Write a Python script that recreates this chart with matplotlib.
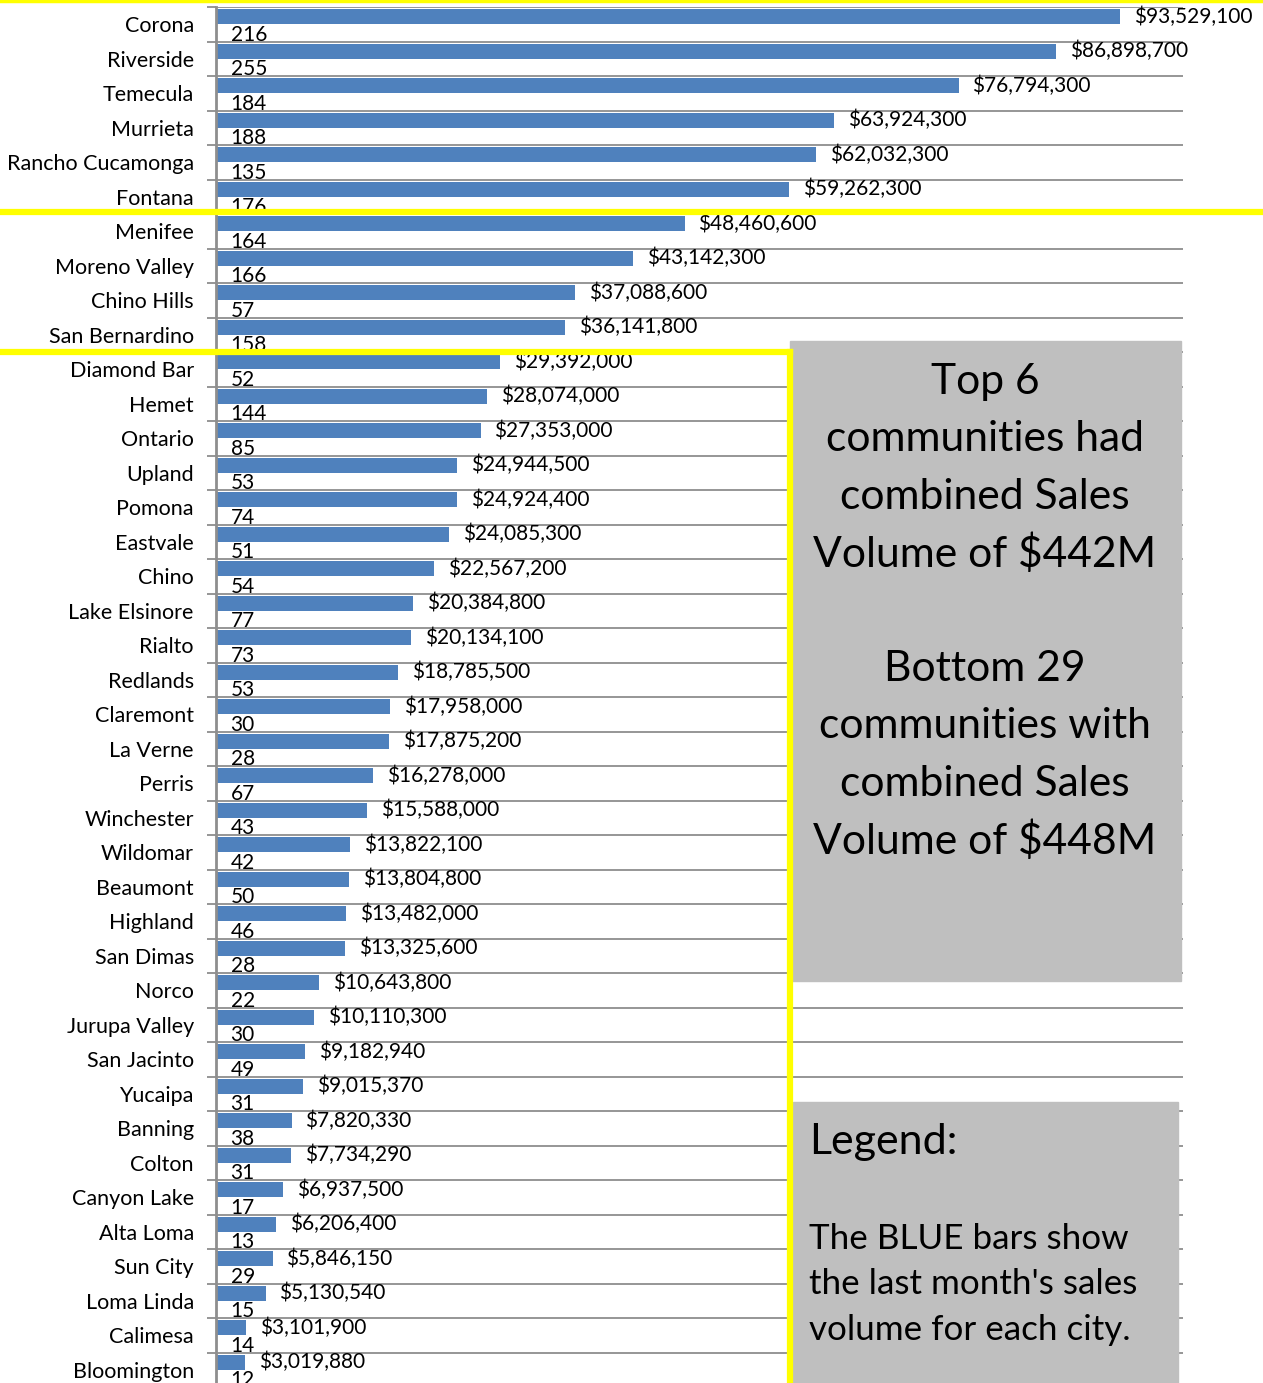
import matplotlib

matplotlib.use("Agg")
import matplotlib.pyplot as plt
from matplotlib.lines import Line2D
from matplotlib.patches import Rectangle
import numpy as np

W, H = 1263, 1383
FONT = "Lato"

cities = [
    "Corona", "Riverside", "Temecula", "Murrieta", "Rancho Cucamonga", "Fontana",
    "Menifee", "Moreno Valley", "Chino Hills", "San Bernardino", "Diamond Bar",
    "Hemet", "Ontario", "Upland", "Pomona", "Eastvale", "Chino", "Lake Elsinore",
    "Rialto", "Redlands", "Claremont", "La Verne", "Perris", "Winchester",
    "Wildomar", "Beaumont", "Highland", "San Dimas", "Norco", "Jurupa Valley",
    "San Jacinto", "Yucaipa", "Banning", "Colton", "Canyon Lake", "Alta Loma",
    "Sun City", "Loma Linda", "Calimesa", "Bloomington",
]
sales_volume = [
    93529100, 86898700, 76794300, 63924300, 62032300, 59262300,
    48460600, 43142300, 37088600, 36141800, 29392000,
    28074000, 27353000, 24944500, 24924400, 24085300, 22567200, 20384800,
    20134100, 18785500, 17958000, 17875200, 16278000, 15588000,
    13822100, 13804800, 13482000, 13325600, 10643800, 10110300,
    9182940, 9015370, 7820330, 7734290, 6937500, 6206400,
    5846150, 5130540, 3101900, 3019880,
]
units_sold = [
    216, 255, 184, 188, 135, 176,
    164, 166, 57, 158, 52,
    144, 85, 53, 74, 51, 54, 77,
    73, 53, 30, 28, 67, 43,
    42, 50, 46, 28, 22, 30,
    49, 31, 38, 31, 17, 13,
    29, 15, 14, 12,
]

box_top = ["Top 6", "communities had", "combined Sales", "Volume of $442M", "",
           "Bottom 29", "communities with", "combined Sales", "Volume of $448M"]
legend_title = "Legend:"
legend_body = ["The BLUE bars show", "the last month's sales", "volume for each city."]

BLUE = "#4F81BD"
GRID = "#8E8E8E"
BOX = "#BFBFBF"
YELLOW = "#FFFF00"


def fx(x):
    return x / W


def fy(y):
    return 1 - y / H


fig = plt.figure(figsize=(W / 100, H / 100), dpi=100)
# plot area: x 216..1183 px, rows start at y=7 with 34.5 px pitch (last row runs off the bottom)
top_px, pitch = 7, 34.5
bot_px = top_px + pitch * len(cities)
ax = fig.add_axes([fx(216), fy(bot_px), fx(1183) - fx(216), (bot_px - top_px) / H])

y = np.arange(len(cities))
vol_bars = ax.barh(y - 0.218, sales_volume, height=0.44, color=BLUE, zorder=3)
cnt_bars = ax.barh(y + 0.3, units_sold, height=0.44, color="none", zorder=3)
ax.bar_label(vol_bars, labels=[f"${v:,.0f}" for v in sales_volume], padding=10,
             fontsize=15, family=FONT, color="black")
ax.bar_label(cnt_bars, labels=[str(c) for c in units_sold], padding=10.5,
             fontsize=15, family=FONT, color="black")

ax.set_xlim(0, 100_000_000)
ax.set_ylim(len(cities) - 0.5, -0.5)
ax.set_xticks([])
ax.set_yticks(y)
ax.set_yticklabels(cities, fontsize=15.5, family=FONT)
ax.set_yticks(np.arange(len(cities) + 1) - 0.5, minor=True)
ax.tick_params(axis="y", which="major", length=0, pad=16)
ax.tick_params(axis="y", which="minor", length=6.5, width=1.3, color=GRID, direction="out")
ax.grid(axis="y", which="minor", color=GRID, linewidth=1.3, zorder=1)
for side in ("top", "right", "bottom"):
    ax.spines[side].set_visible(False)
ax.spines["left"].set_color(GRID)
ax.spines["left"].set_linewidth(2)
ax.spines["left"].set_zorder(4)

# grey callout boxes
fig.patches.append(Rectangle((fx(790), fy(981)), fx(1181) - fx(790), (981 - 341) / H,
                             transform=fig.transFigure, color=BOX, zorder=5))
fig.patches.append(Rectangle((fx(793), fy(1390)), fx(1178) - fx(793), (1390 - 1102) / H,
                             transform=fig.transFigure, color=BOX, zorder=5))

for i, line in enumerate(box_top):
    fig.text(fx(985), fy(382 + 57.4 * i), line, ha="center", va="center",
             fontsize=30.7, family=FONT, zorder=6)
fig.text(fx(809), fy(1142), legend_title, ha="left", va="center",
         fontsize=31, family=FONT, zorder=6)
for i, line in enumerate(legend_body):
    fig.text(fx(809), fy(1239 + 45.5 * i), line, ha="left", va="center",
             fontsize=25.2, family=FONT, zorder=6)

# yellow group separators
for xs, ys, lw in [((0, W), (1, 1), 2.5),
                   ((0, W), (212, 212), 4.5),
                   ((0, 790), (352, 352), 4.5),
                   ((790, 790), (352, H + 5), 4.5)]:
    fig.add_artist(Line2D([fx(v) for v in xs], [fy(v) for v in ys], color=YELLOW,
                          linewidth=lw, transform=fig.transFigure, zorder=7,
                          solid_capstyle="projecting"))

fig.savefig("out.png", dpi=100)
